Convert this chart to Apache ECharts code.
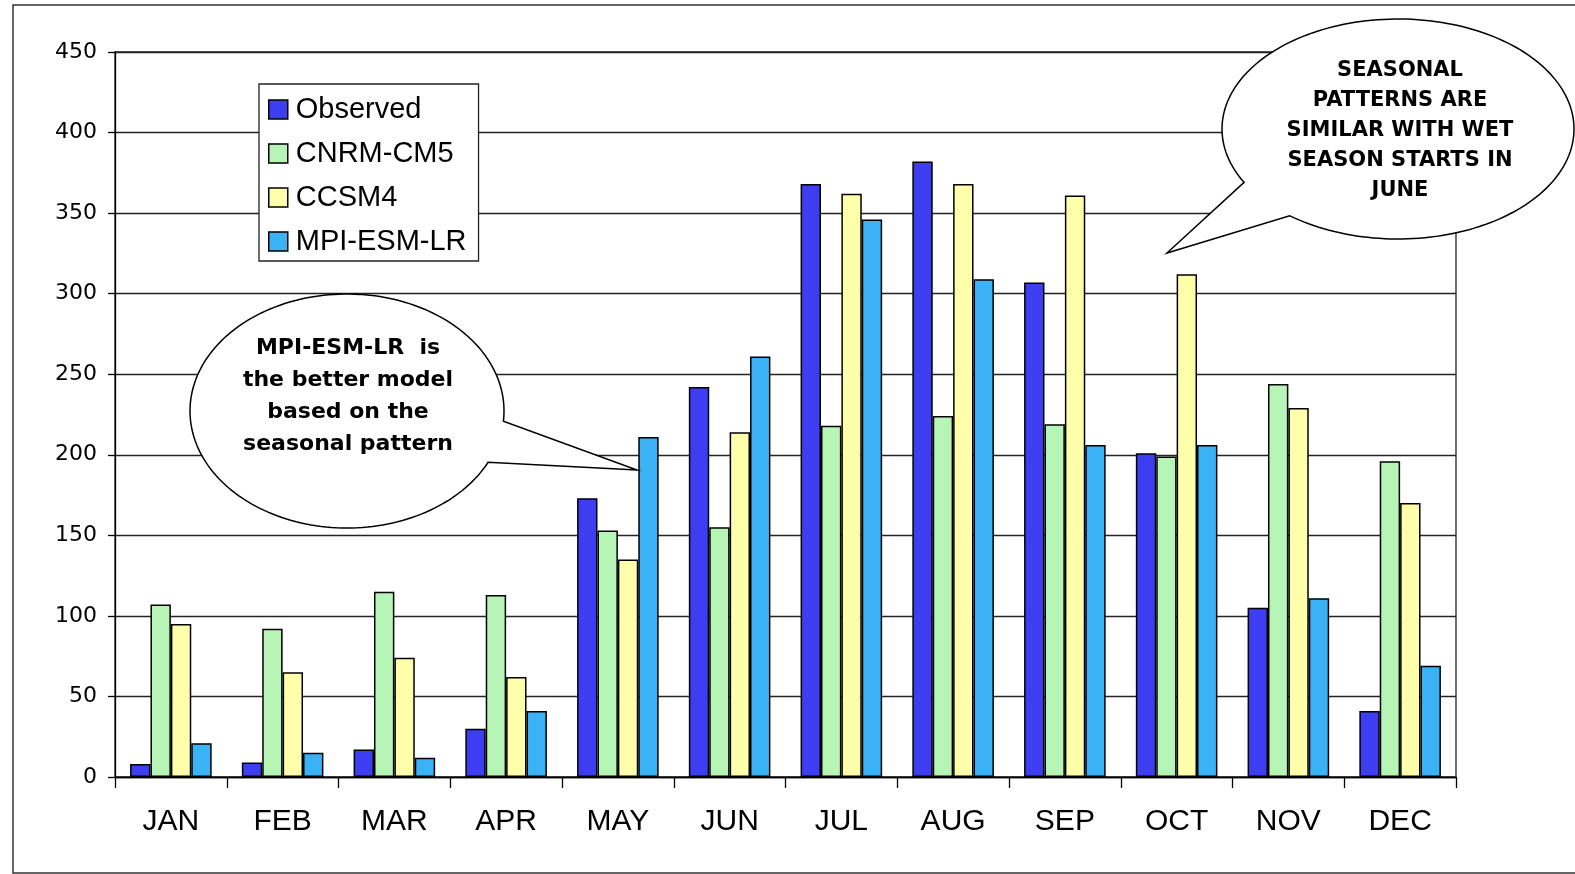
<!DOCTYPE html>
<html>
<head>
<meta charset="utf-8">
<title>Monthly rainfall: observed vs GCMs</title>
<script src="https://cdn.jsdelivr.net/npm/echarts@6/dist/echarts.min.js"></script>
<style>
  html, body { margin: 0; padding: 0; background: #ffffff; }
  #chart { width: 1575px; height: 874px; }
</style>
</head>
<body>
<div id="chart"></div>
<script>
// Months on the category axis
const months = ['JAN', 'FEB', 'MAR', 'APR', 'MAY', 'JUN', 'JUL', 'AUG', 'SEP', 'OCT', 'NOV', 'DEC'];

// Monthly values per source
const observed = [8, 9, 17, 30, 173, 242, 368, 382, 307, 201, 105, 41];
const cnrmCm5  = [107, 92, 115, 113, 153, 155, 218, 224, 219, 199, 244, 196];
const ccsm4    = [95, 65, 74, 62, 135, 214, 362, 368, 361, 312, 229, 170];
const mpiEsmLr = [21, 15, 12, 41, 211, 261, 346, 309, 206, 206, 111, 69];

// Value-axis range
const yMin = 0;
const yMax = 450;
const yStep = 50;

// Callout texts
const noteModel = ['MPI-ESM-LR  is', 'the better model', 'based on the', 'seasonal pattern'];
const noteSeason = ['SEASONAL', 'PATTERNS ARE', 'SIMILAR WITH WET', 'SEASON STARTS IN', 'JUNE'];

const seriesDefs = [
  { name: 'Observed',   data: observed, color: '#3d3df2' },
  { name: 'CNRM-CM5',   data: cnrmCm5,  color: '#b6f5b6' },
  { name: 'CCSM4',      data: ccsm4,    color: '#ffffab' },
  { name: 'MPI-ESM-LR', data: mpiEsmLr, color: '#3cb2f6' }
];

const FONT = '"Liberation Sans", Arial, sans-serif';
const WIDE = '"DejaVu Sans", Verdana, sans-serif';

// Speech bubble outline: ellipse with a pointed tail, as one closed polygon
function bubblePoints(cx, cy, rx, ry, a0deg, a1deg, tip) {
  const pts = [];
  const a0 = a0deg * Math.PI / 180;
  let a1 = a1deg * Math.PI / 180;
  if (a1 <= a0) a1 += Math.PI * 2;
  const n = 180;
  for (let i = 0; i <= n; i++) {
    const a = a0 + (a1 - a0) * i / n;
    pts.push([cx + rx * Math.cos(a), cy + ry * Math.sin(a)]);
  }
  pts.push(tip);
  return pts;
}

function textLines(lines, cx, y0, step, size) {
  return lines.map((t, i) => ({
    type: 'text',
    z: 110,
    x: cx,
    y: y0 + i * step,
    style: {
      text: t,
      font: 'bold ' + size + 'px ' + WIDE,
      fill: '#000',
      align: 'center',
      verticalAlign: 'middle'
    }
  }));
}

const chart = echarts.init(document.getElementById('chart'), null, { renderer: 'canvas' });

chart.setOption({
  backgroundColor: '#ffffff',
  animation: false,
  grid: {
    left: 115,
    right: 119,
    top: 52,
    bottom: 97,
    show: true,
    borderColor: '#222',
    borderWidth: 1.3,
    backgroundColor: 'transparent'
  },
  legend: {
    orient: 'vertical',
    left: 259,
    top: 84,
    padding: [11, 12, 5, 9],
    itemGap: 15,
    itemWidth: 19,
    itemHeight: 19,
    backgroundColor: '#ffffff',
    borderColor: '#222',
    borderWidth: 1.3,
    icon: 'rect',
    itemStyle: { borderColor: '#000', borderWidth: 1.5 },
    textStyle: { fontFamily: FONT, fontSize: 29, color: '#000', lineHeight: 29, padding: [0, 0, 0, 3] },
    data: seriesDefs.map(s => s.name)
  },
  xAxis: {
    type: 'category',
    data: months,
    boundaryGap: true,
    axisLine: { show: true, lineStyle: { color: '#000', width: 1.3 } },
    axisTick: { show: true, length: 11, lineStyle: { color: '#000', width: 1.3 } },
    axisLabel: { color: '#000', fontFamily: FONT, fontSize: 30, margin: 30 },
    splitLine: { show: false }
  },
  yAxis: {
    type: 'value',
    min: yMin,
    max: yMax,
    interval: yStep,
    axisLine: { show: true, lineStyle: { color: '#000', width: 1.3 } },
    axisTick: { show: true, length: 7, lineStyle: { color: '#000', width: 1.3 } },
    axisLabel: { color: '#000', fontFamily: WIDE, fontSize: 22, margin: 18 },
    splitLine: { show: true, lineStyle: { color: '#222', width: 1.3 } }
  },
  series: seriesDefs.map(s => ({
    type: 'bar',
    name: s.name,
    data: s.data,
    barGap: '0%',
    barCategoryGap: '27%',
    itemStyle: { color: s.color, borderColor: '#000', borderWidth: 1.5 },
    emphasis: { disabled: true }
  })),
  graphic: [
    // outer frame
    {
      type: 'rect', z: 1, silent: true,
      shape: { x: 13, y: 5, width: 1620, height: 868 },
      style: { fill: null, stroke: '#333', lineWidth: 1.5 }
    },
    // callout about the best model
    {
      type: 'polygon', z: 100, silent: true,
      shape: { points: bubblePoints(347, 411, 157, 117, 26, 5, [637, 470]) },
      style: { fill: '#ffffff', stroke: '#000', lineWidth: 1.5 }
    },
    ...textLines(noteModel, 348, 348, 32, 22),
    // callout about the seasonal pattern
    {
      type: 'polygon', z: 100, silent: true,
      shape: { points: bubblePoints(1398, 129, 176, 110, 151, 128, [1167, 253]) },
      style: { fill: '#ffffff', stroke: '#000', lineWidth: 1.5 }
    },
    ...textLines(noteSeason, 1400, 71, 30, 21)
  ]
});
</script>
</body>
</html>
